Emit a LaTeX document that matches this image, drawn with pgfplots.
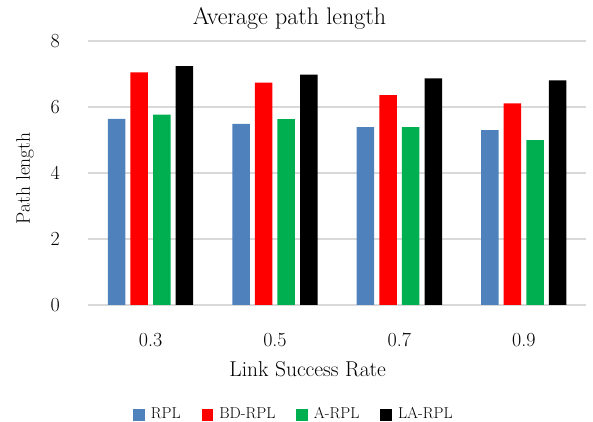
\documentclass[border=0pt]{standalone}
\usepackage{pgfplots}
\pgfplotsset{compat=1.18}
\definecolor{cRPL}{HTML}{4F81BD}
\definecolor{cBD}{HTML}{FF0000}
\definecolor{cA}{HTML}{00B050}
\definecolor{cLA}{HTML}{000000}
\definecolor{gridc}{HTML}{D9D9D9}
\pgfplotsset{sqlegend/.style={legend image code/.code={\fill[##1] (0pt,-6.8pt) rectangle (11.6pt,4.8pt);}}}
\begin{document}
\begin{tikzpicture}
\useasboundingbox (0,0) rectangle (593pt,422pt);
\begin{axis}[
  at={(88.3pt,117pt)}, anchor=south west,
  scale only axis, width=497.7pt, height=264pt,
  xmin=-0.5, xmax=3.5, ymin=0, ymax=8,
  ybar=5.1pt, bar width=17.5pt,
  axis line style={draw=none},
  major tick length=0pt,
  ytick={0,2,4,6,8},
  ymajorgrids, grid style={gridc, line width=1.4pt},
  xtick={0,1,2,3}, xticklabels={0.3,0.5,0.7,0.9},
  /pgf/number format/assume math mode=true,
  yticklabel style={font=\fontsize{20}{24}\selectfont, anchor=east, inner sep=0pt, xshift=-28.3pt},
  xticklabel style={font=\fontsize{20}{24}\selectfont, anchor=north, inner sep=0pt, yshift=-28pt},
  title={Average path length},
  title style={at={(axis description cs:0.4043,1.039)}, anchor=base, font=\fontsize{24}{28}\selectfont},
  xlabel={Link Success Rate},
  xlabel style={at={(axis description cs:0.4408,-0.2727)}, anchor=base, font=\fontsize{21.5}{26}\selectfont},
  ylabel={Path length},
  ylabel style={at={(axis description cs:-0.1272,0.48)}, anchor=center, font=\fontsize{19.5}{23}\selectfont},
  legend columns=4,
  legend style={at={(0.4133,-0.413)}, anchor=center, draw=none, font=\fontsize{15.8}{18}\selectfont,
    /tikz/every odd column/.append style={column sep=4pt},
    /tikz/every even column/.append style={column sep=19pt}},
]
\addplot[draw=none, fill=cRPL, sqlegend] coordinates {(0,5.64) (1,5.49) (2,5.39) (3,5.30)};
\addplot[draw=none, fill=cBD, sqlegend] coordinates {(0,7.05) (1,6.74) (2,6.36) (3,6.11)};
\addplot[draw=none, fill=cA, sqlegend] coordinates {(0,5.77) (1,5.63) (2,5.39) (3,5.00)};
\addplot[draw=none, fill=cLA, sqlegend] coordinates {(0,7.24) (1,6.98) (2,6.87) (3,6.81)};
\legend{RPL, BD-RPL, A-RPL, LA-RPL}
\end{axis}
\end{tikzpicture}
\end{document}
